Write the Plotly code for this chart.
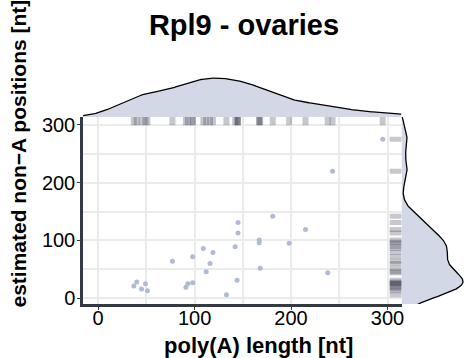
import numpy as np
import plotly.graph_objects as go

# data: poly(A) length [nt] and estimated non-A positions [nt]
polyA_len = [295, 243, 181, 145, 145, 215, 167, 167, 198, 142, 109, 119, 98, 77,
             116, 168, 112, 238, 144, 98, 93, 91, 40, 49, 37, 45, 51, 133]
nonA_pos = [275, 220, 142, 131, 113, 119, 101, 96, 95, 89, 86, 79, 72, 64,
            60, 52, 46, 44, 31, 27, 25, 19, 28, 25, 21, 16, 13, 6]

title = "Rpl9 - ovaries"
x_title = "poly(A) length [nt]"
y_title = "estimated non−A positions [nt]"
x_ticks = [0, 100, 200, 300]
y_ticks = [0, 100, 200, 300]

x_range = [-15.7, 314.5]
y_range = [-10, 313.7]


def kde(vals, grid, adjust=1.0):
    v = np.asarray(vals, float)
    n = len(v)
    sd = v.std(ddof=1)
    iqr = np.subtract(*np.percentile(v, [75, 25]))
    bw = adjust * 0.9 * min(sd, iqr / 1.34) * n ** -0.2
    d = np.exp(-0.5 * ((grid[:, None] - v[None, :]) / bw) ** 2).sum(1)
    return d / (n * bw * np.sqrt(2 * np.pi))


gx = np.linspace(x_range[0], x_range[1], 300)
gy = np.linspace(y_range[0] - 6, y_range[1] + 3, 300)
dx = kde(polyA_len, gx)
dy = kde(nonA_pos, gy, adjust=0.8)

pt_color = "rgb(176,186,212)"
fill_color = "rgb(211,216,230)"
rug_color = "rgba(55,55,80,0.28)"
axis_color = "#333a44"
grid_color = "#ebebeb"
font = "Liberation Sans, Arial, sans-serif"

fig = go.Figure()

fig.add_trace(go.Scatter(x=polyA_len, y=nonA_pos, mode="markers",
                         marker=dict(size=5, color=pt_color),
                         xaxis="x", yaxis="y", hoverinfo="skip"))
fig.add_trace(go.Scatter(x=polyA_len, y=[0.982] * len(polyA_len), mode="markers",
                         marker=dict(symbol="line-ns", size=7,
                                     line=dict(width=6, color=rug_color)),
                         xaxis="x", yaxis="y4", hoverinfo="skip"))
fig.add_trace(go.Scatter(x=[0.985] * len(nonA_pos), y=nonA_pos, mode="markers",
                         marker=dict(symbol="line-ew", size=10,
                                     line=dict(width=5, color=rug_color)),
                         xaxis="x5", yaxis="y", hoverinfo="skip"))
fig.add_trace(go.Scatter(x=gx, y=dx, mode="lines", fill="tozeroy",
                         fillcolor=fill_color, line=dict(color="black", width=1.3),
                         xaxis="x2", yaxis="y2", hoverinfo="skip"))
fig.add_trace(go.Scatter(x=dy, y=gy, mode="lines", fill="tozerox",
                         fillcolor=fill_color, line=dict(color="black", width=1.3),
                         xaxis="x3", yaxis="y3", hoverinfo="skip"))

xd = (404 - 83) / (474 - 83 - 4)
yd = (304 - 117) / (358 - 70 - 54)

tickfont = dict(family=font, size=20, color="black")
titlefont_y = dict(family=font, size=21, color="black", weight="bold")
titlefont_x = dict(family=font, size=22, color="black", weight="bold")

fig.update_layout(
    width=474, height=358,
    margin=dict(l=83, r=4, t=70, b=54),
    paper_bgcolor="white", plot_bgcolor="white",
    showlegend=False,
    title=dict(text=title, x=244 / 474, xanchor="center",
               y=1 - 25 / 358, yanchor="middle",
               font=dict(family=font, size=29, color="black", weight="bold")),
    xaxis=dict(domain=[0, xd], range=x_range, tickvals=x_ticks,
               showgrid=True, gridcolor=grid_color, gridwidth=2,
               minor=dict(dtick=50, tick0=0, showgrid=True, gridcolor=grid_color, gridwidth=2),
               zeroline=False, showline=True, linecolor=axis_color, linewidth=2.5,
               ticks="outside", ticklen=3, tickcolor=axis_color, tickwidth=1,
               tickfont=tickfont, ticklabelstandoff=-9),
    yaxis=dict(domain=[0, yd], range=y_range, tickvals=y_ticks,
               showgrid=True, gridcolor=grid_color, gridwidth=2,
               minor=dict(dtick=50, tick0=0, showgrid=True, gridcolor=grid_color, gridwidth=2),
               zeroline=False, showline=True, linecolor=axis_color, linewidth=2.5,
               ticks="outside", ticklen=3, tickcolor=axis_color, tickwidth=1,
               tickfont=tickfont, ticklabelstandoff=-2),
    xaxis2=dict(domain=[0, xd], range=x_range, visible=False, anchor="y2"),
    yaxis2=dict(domain=[yd, 1], range=[0, dx.max() * 46 / 38], visible=False, anchor="x2"),
    xaxis3=dict(domain=[xd, 1], range=[0, dy.max() * 66 / 62], visible=False, anchor="y3"),
    yaxis3=dict(domain=[0, yd], range=y_range, visible=False, anchor="x3"),
    yaxis4=dict(overlaying="y", range=[0, 1], visible=False),
    xaxis5=dict(overlaying="x", range=[0, 1], visible=False),
    annotations=[
        dict(text=x_title, xref="paper", yref="paper",
             x=(260 - 83) / 387, y=-(345 - 304) / 234, xanchor="center", yanchor="middle",
             showarrow=False, font=titlefont_x),
        dict(text=y_title, xref="paper", yref="paper", textangle=-90,
             x=(17 - 83) / 387, y=(304 - 154) / 234, xanchor="center", yanchor="middle",
             showarrow=False, font=titlefont_y),
    ],
)

fig.write_html("out.html")
